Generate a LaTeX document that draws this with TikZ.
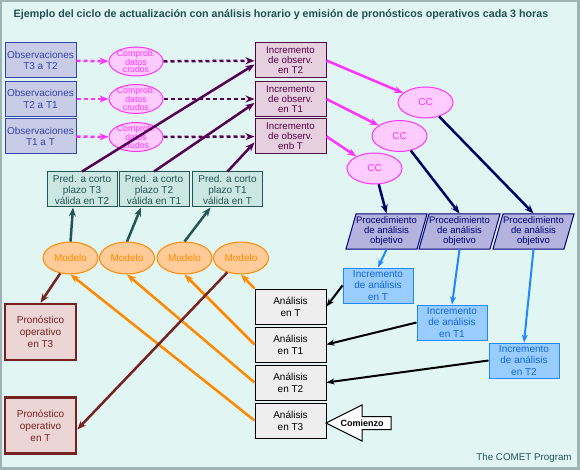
\documentclass[tikz,border=0pt]{standalone}
\usepackage{fontspec}
\setmainfont{Liberation Sans}
\usepackage{tikz}
\usetikzlibrary{shapes.geometric,arrows.meta,positioning}

\definecolor{framegray}{HTML}{9FB3B3}
\definecolor{bgcyan}{HTML}{E1F6F3}
\definecolor{titleteal}{HTML}{1F4F4F}
\definecolor{obsblue}{HTML}{3344AA}
\definecolor{obsfill}{HTML}{C9CCE6}
\definecolor{chkpink}{HTML}{FF33FF}
\definecolor{chkfill}{HTML}{FFCCFF}
\definecolor{iobspurple}{HTML}{550044}
\definecolor{iobsfill}{HTML}{E6D0E0}
\definecolor{darkplum}{HTML}{550055}
\definecolor{ccnavy}{HTML}{000066}
\definecolor{procfill}{HTML}{B3B3DD}
\definecolor{procnavy}{HTML}{000077}
\definecolor{skyblue}{HTML}{1E88FF}
\definecolor{ianfill}{HTML}{99CCFF}
\definecolor{iantext}{HTML}{1166DD}
\definecolor{anafill}{HTML}{EEEEEE}
\definecolor{predteal}{HTML}{225555}
\definecolor{predfill}{HTML}{CCE6E2}
\definecolor{modorange}{HTML}{FF8800}
\definecolor{modfill}{HTML}{FFCC99}
\definecolor{prored}{HTML}{772222}
\definecolor{profill}{HTML}{EBD5D5}

\newcommand{\procspace}{\phantom{\rule{61pt}{35pt}}}

\begin{document}
\begin{tikzpicture}[
    x=1pt, y=-1pt,
    every node/.style={align=center, inner sep=0pt},
    obsbox/.style={
        rectangle,
        draw=obsblue,
        fill=obsfill,
        text=obsblue,
        line width=1pt,
        minimum width=71pt,
        minimum height=35pt,
        font=\fontsize{10}{11.5}\selectfont
    },
    chkoval/.style={
        ellipse,
        draw=chkpink,
        fill=chkfill,
        line width=1pt,
        minimum width=54pt,
        minimum height=29pt
    },
    chklabel/.style={text=chkpink, font=\fontsize{8.7}{7.5}\selectfont},
    iobsbox/.style={
        rectangle,
        draw=iobspurple,
        fill=iobsfill,
        text=iobspurple,
        line width=1pt,
        minimum width=71pt,
        minimum height=35pt,
        font=\fontsize{9.7}{10}\selectfont
    },
    ccoval/.style={
        ellipse,
        draw=chkpink,
        fill=chkfill,
        text=chkpink,
        line width=1pt,
        minimum width=55pt,
        minimum height=31pt,
        font=\fontsize{10}{12}\selectfont
    },
    procbox/.style={
        trapezium,
        trapezium left angle=74,
        trapezium right angle=106,
        draw=procnavy,
        fill=procfill,
        line width=1pt
    },
    proclabel/.style={text=procnavy, font=\fontsize{9.5}{10}\selectfont},
    ianbox/.style={
        rectangle,
        draw=skyblue,
        fill=ianfill,
        text=iantext,
        line width=1pt,
        minimum width=70pt,
        minimum height=35pt,
        font=\fontsize{10}{11.7}\selectfont
    },
    anabox/.style={
        rectangle,
        draw=black,
        fill=anafill,
        line width=1pt,
        minimum width=71pt,
        minimum height=35pt,
        font=\fontsize{10}{12}\selectfont
    },
    predbox/.style={
        rectangle,
        draw=predteal,
        fill=predfill,
        text=predteal,
        line width=1pt,
        minimum width=70pt,
        minimum height=35pt,
        font=\fontsize{10}{11}\selectfont
    },
    modoval/.style={
        ellipse,
        draw=modorange,
        fill=modfill,
        text=modorange,
        line width=1pt,
        minimum width=55pt,
        minimum height=32pt,
        font=\fontsize{10}{12}\selectfont
    },
    probox/.style={
        rectangle,
        draw=prored,
        fill=profill,
        text=prored,
        line width=2.5pt,
        minimum width=71pt,
        minimum height=56pt,
        font=\fontsize{10}{12}\selectfont
    },
    flow/.style={line width=2.5pt, -{Stealth[length=9pt,width=7pt]}},
    thinflow/.style={line width=2pt, -{Stealth[length=8pt,width=6pt]}},
    dotflow/.style={flow, dash pattern=on 4pt off 3pt}
]
    \useasboundingbox (0,0) rectangle (580,470);
    % frame and background
    \fill[framegray] (0,0) rectangle (580,470);
    \fill[bgcyan] (2,2) rectangle (577,467);

    % title and credit
    \node[text=titleteal, font=\fontsize{10.7}{12}\selectfont\bfseries] (title) at (281,15)
        {Ejemplo del ciclo de actualización con análisis horario y emisión de pronósticos operativos cada 3 horas};
    \node[text=predteal, font=\fontsize{9.8}{11}\selectfont] (credit) at (524,458) {The COMET Program};

    % observations
    \node[obsbox] (obs1) at (40.5,60.5) {Observaciones\\T3 a T2};
    \node[obsbox] (obs2) at (40.5,99) {Observaciones\\T2 a T1};
    \node[obsbox] (obs3) at (40.5,136.5) {Observaciones\\T1 a T};

    % raw data checks
    \node[chkoval, label={[chklabel]center:{Comprob.\\datos\\crudos}}] (chk1) at (136,61.5) {};
    \node[chkoval, label={[chklabel]center:{Comprob.\\datos\\crudos}}] (chk2) at (136,99) {};
    \node[chkoval, label={[chklabel]center:{Comprob.\\datos\\crudos}}] (chk3) at (136,137) {};

    % observation increments
    \node[iobsbox] (iobs1) at (290.5,60.5) {Incremento\\de observ.\\en T2};
    \node[iobsbox] (iobs2) at (290.5,99) {Incremento\\de observ.\\en T1};
    \node[iobsbox] (iobs3) at (290.5,136.5) {Incremento\\de observ.\\enb T};

    % quality control
    \node[ccoval] (cc1) at (425.5,102.5) {CC};
    \node[ccoval] (cc2) at (399.5,136) {CC};
    \node[ccoval] (cc3) at (374.5,168.5) {CC};

    % objective analysis
    \node[procbox, label={[proclabel]center:{Procedimiento\\de análisis\\objetivo}}] (proc1) at (386.5,231.5) {\procspace};
    \node[procbox, label={[proclabel]center:{Procedimiento\\de análisis\\objetivo}}] (proc2) at (459.5,231.5) {\procspace};
    \node[procbox, label={[proclabel]center:{Procedimiento\\de análisis\\objetivo}}] (proc3) at (533.5,231.5) {\procspace};

    % analysis increments
    \node[ianbox] (ian1) at (378,285.5) {Incremento\\de análisis\\en T};
    \node[ianbox] (ian2) at (452,322.5) {Incremento\\de análisis\\en T1};
    \node[ianbox] (ian3) at (524,360.5) {Incremento\\de análisis\\en T2};

    % analyses
    \node[anabox] (ana1) at (290.5,306.5) {Análisis\\en T};
    \node[anabox] (ana2) at (290.5,344.5) {Análisis\\en T1};
    \node[anabox] (ana3) at (290.5,382.5) {Análisis\\en T2};
    \node[anabox] (ana4) at (290.5,420.5) {Análisis\\en T3};

    % short range forecasts
    \node[predbox] (pred1) at (82,189.5) {Pred. a corto\\plazo T3\\válida en T2};
    \node[predbox] (pred2) at (154,189.5) {Pred. a corto\\plazo T2\\válida en T1};
    \node[predbox] (pred3) at (227.5,189.5) {Pred. a corto\\plazo T1\\válida en T};

    % model runs
    \node[modoval] (mod1) at (70.5,258) {Modelo};
    \node[modoval] (mod2) at (127,258) {Modelo};
    \node[modoval] (mod3) at (184.5,258) {Modelo};
    \node[modoval] (mod4) at (241,258) {Modelo};

    % operational forecasts
    \node[probox] (pro1) at (40.5,332) {Pronóstico\\operativo\\en T3};
    \node[probox] (pro2) at (40.5,425.5) {Pronóstico\\operativo\\en T};

    % start arrow
    \draw[line width=1pt, fill=white] (326,423) -- (362,405) -- (362,416.5) -- (391,416.5)
        -- (391,429.5) -- (362,429.5) -- (362,441) -- cycle;
    \node[font=\fontsize{9}{11}\selectfont\bfseries] (start) at (362,423) {Comienzo};

    % observations through checks
    \foreach \i in {1,2,3} {
        \draw[dotflow, chkpink] (obs\i) -- (chk\i);
        \draw[dotflow, darkplum] (chk\i) -- (iobs\i);
    }

    % increments to quality control
    \draw[flow, chkpink] (iobs1.east) -- (cc1);
    \draw[flow, chkpink] (iobs2.east) -- (cc2);
    \draw[flow, chkpink] (iobs3.east) -- (cc3);

    % quality control to analysis
    \draw[flow, ccnavy] (cc3) -- (proc1.north);
    \draw[flow, ccnavy] (cc2) -- (proc2.north);
    \draw[flow, ccnavy] (cc1) -- (proc3.north);

    \draw[thinflow, skyblue] (proc1.south) -- (ian1.north);
    \draw[thinflow, skyblue] (proc2.south) -- (ian2.north);
    \draw[thinflow, skyblue] (proc3.south) -- (ian3.north);

    \draw[thinflow, black] (ian1.west) -- (ana1.east);
    \draw[thinflow, black] (ian2.west) -- (ana2.east);
    \draw[thinflow, black] (ian3.west) -- (ana3.east);

    % analyses feed the model
    \draw[flow, modorange] (ana1.north west) -- (mod4.south);
    \draw[flow, modorange] (ana2.west) -- (mod3.south);
    \draw[flow, modorange] (ana3.west) -- (mod2.south);
    \draw[flow, modorange] (ana4.west) -- (mod1.south);

    % model to forecasts
    \draw[flow, predteal] (mod1.north) -- ([xshift=-9pt]pred1.south);
    \draw[flow, predteal] (mod2.north) -- ([xshift=-13pt]pred2.south);
    \draw[flow, predteal] (mod3.north) -- ([xshift=-17pt]pred3.south);

    \draw[flow, darkplum] (pred1.north) -- ([yshift=-4pt]iobs1.west);
    \draw[flow, darkplum] (pred2.north) -- ([yshift=-4pt]iobs2.west);
    \draw[flow, darkplum] (pred3.north) -- ([yshift=-6pt]iobs3.west);

    \draw[flow, prored] (mod1) -- (pro1.north);
    \draw[flow, prored] (mod4) -- ([yshift=-4pt]pro2.east);
\end{tikzpicture}
\end{document}
